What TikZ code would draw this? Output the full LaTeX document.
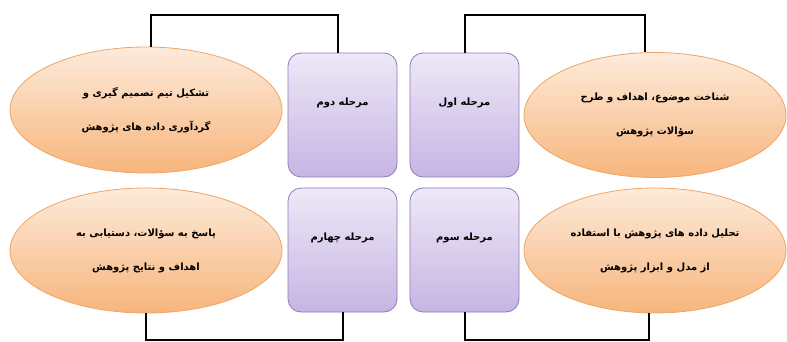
\documentclass[tikz,border=0pt]{standalone}
\usepackage{fontspec}
\usepackage{tikz}
\usetikzlibrary{shapes.geometric}
\TeXXeTstate=1
\newfontfamily\fafont[Script=Arabic]{DejaVu Sans}
\definecolor{boxtop}{HTML}{EEE8F7}
\definecolor{boxbot}{HTML}{C6B5E3}
\definecolor{boxline}{HTML}{8C7BBA}
\definecolor{elltop}{HTML}{FDEBDB}
\definecolor{ellbot}{HTML}{F7B57C}
\definecolor{ellline}{HTML}{EFA465}
\begin{document}
\begin{tikzpicture}[x=1pt,y=-1pt,
  stagebox/.style={draw=boxline, line width=0.8pt, rounded corners=13pt, top color=boxtop, bottom color=boxbot, minimum width=109pt, minimum height=124pt},
  goal/.style={ellipse, draw=ellline, line width=0.8pt, top color=elltop, bottom color=ellbot, minimum width=262pt, minimum height=125pt, inner sep=0pt, align=center, font=\fafont\bfseries\fontsize{10}{12}\selectfont},
  stagetext/.style={font=\fafont\bfseries\fontsize{10}{12}\selectfont},
  link/.style={line width=2pt}]
\useasboundingbox (0,0) rectangle (787,342);
% stages
\node[stagebox] (s1) at (464.5,115) {};
\node[stagebox] (s2) at (342.5,115) {};
\node[stagebox] (s3) at (464.5,250) {};
\node[stagebox] (s4) at (342.5,250) {};
\node[stagetext] (t1) at ([yshift=12pt]s1.center) {\beginR مرحله اول\endR};
\node[stagetext] (t2) at ([yshift=12pt]s2.center) {\beginR مرحله دوم\endR};
\node[stagetext] (t3) at ([yshift=12pt]s3.center) {\beginR مرحله سوم\endR};
\node[stagetext] (t4) at ([yshift=12pt]s4.center) {\beginR مرحله چهارم\endR};
% goals
\node[goal] (e1) at (655,115) {\beginR شناخت موضوع، اهداف و طرح\endR\\[22pt]\beginR سؤالات پژوهش\endR};
\node[goal, minimum width=272pt, minimum height=126pt] (e2) at (146,110) {\beginR تشکیل تیم تصمیم گیری و\endR\\[22pt]\beginR گردآوری داده های پژوهش\endR};
\node[goal] (e3) at (655,250.5) {\beginR تحلیل داده های پژوهش با استفاده\endR\\[22pt]\beginR از مدل و ابزار پژوهش\endR};
\node[goal, minimum width=272pt] (e4) at (146,250.5) {\beginR پاسخ به سؤالات، دستیابی به\endR\\[22pt]\beginR اهداف و نتایج پژوهش\endR};
% links
\draw[link] ([xshift=5pt]e2.north) -- ++(0,-32) -| ([xshift=-5pt]s2.north);
\draw[link] (s1.north) -- ++(0,-38) -| ([xshift=-10pt]e1.north);
\draw[link] (e4.south) -- ++(0,27) -| (s4.south);
\draw[link] (s3.south) -- ++(0,28) -| ([xshift=-6pt]e3.south);
\end{tikzpicture}
\end{document}
